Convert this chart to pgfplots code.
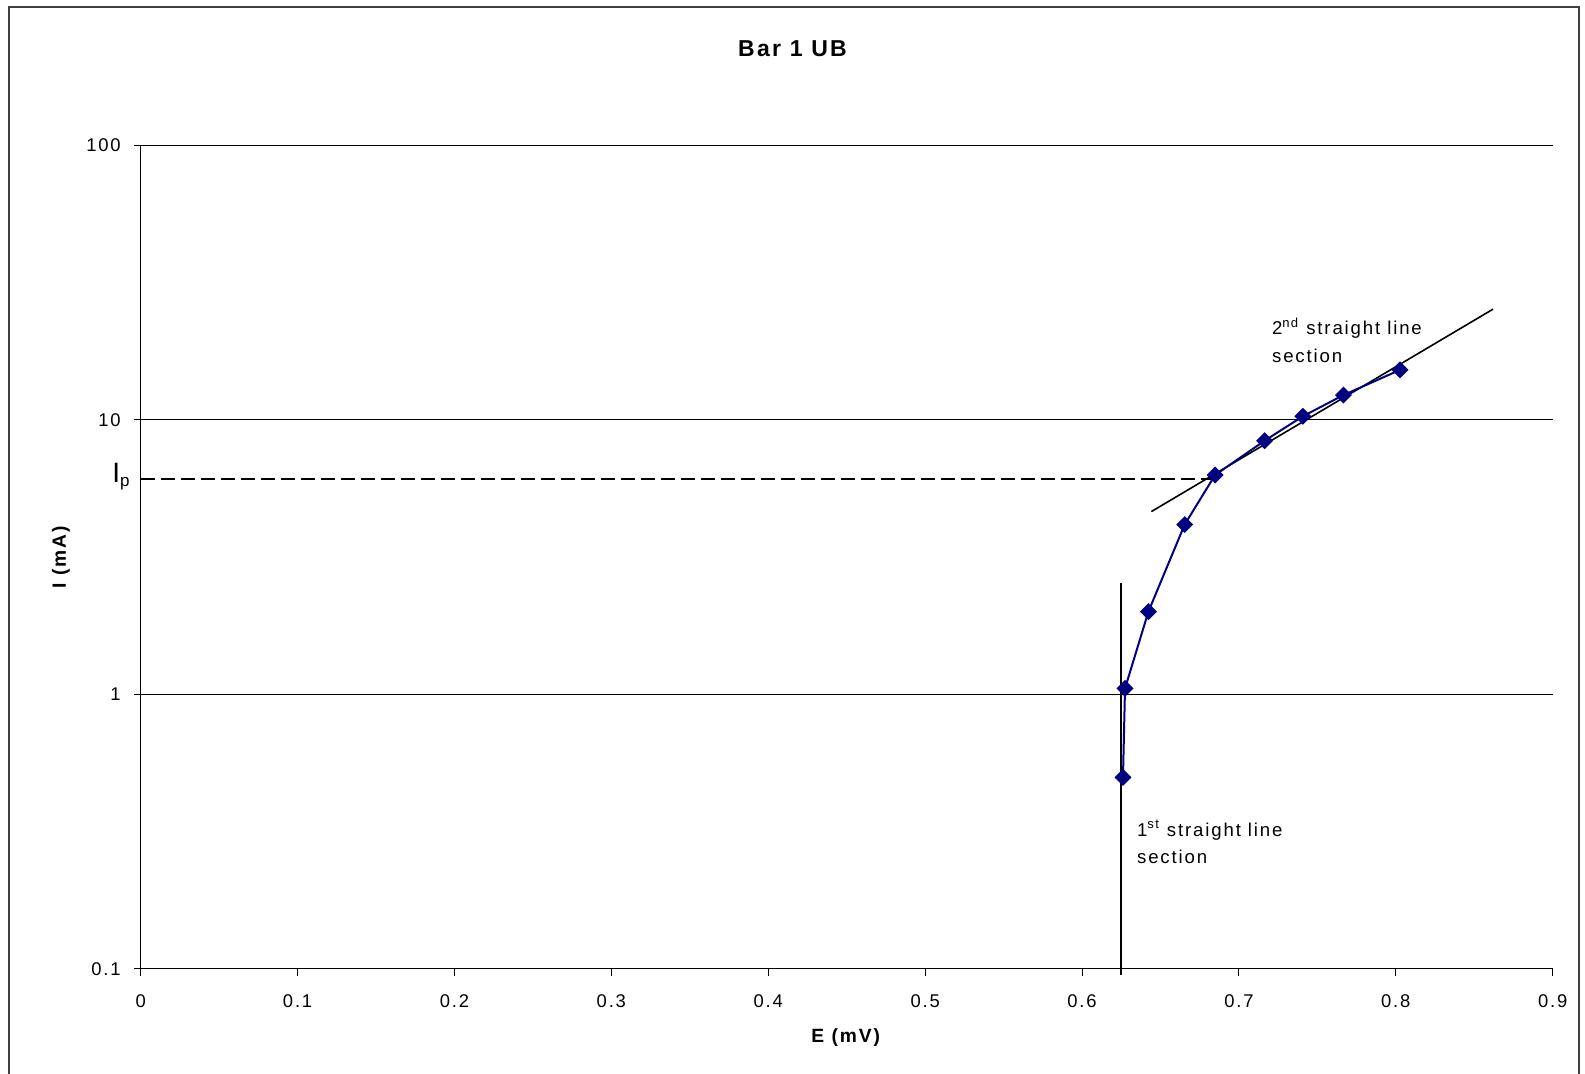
\documentclass[border=0pt]{standalone}
\usepackage{fontspec}
\setmainfont{Liberation Sans}[LetterSpace=10]
\usepackage{pgfplots}
\pgfplotsset{compat=1.18}
\definecolor{navyblue}{HTML}{000080}
\definecolor{framegray}{HTML}{404040}
\begin{document}
\begin{tikzpicture}[x=1pt,y=1pt]
\useasboundingbox (-70.35,-52.15) rectangle (722.15,484.35);
\draw[line width=1pt, color=framegray] (-65.85,-60) -- (-65.85,480.85) -- (719.15,480.85) -- (719.15,-60);
\begin{axis}[
  at={(0,0)}, anchor=south west,
  width=706pt, height=411.7pt, scale only axis,
  xmin=0, xmax=0.9, ymode=log, ymin=0.1, ymax=100,
  axis lines*=left,
  axis line style={black, line width=0.6pt},
  xtick={0,0.1,0.2,0.3,0.4,0.5,0.6,0.7,0.8,0.9},
  xticklabels={0,0.1,0.2,0.3,0.4,0.5,0.6,0.7,0.8,0.9},
  ytick={0.1,1,10,100},
  yticklabels={0.1,1,10,100},
  yminorticks=false,
  ymajorgrids,
  major grid style={black, line width=0.5pt},
  tick align=outside, major tick length=3.5pt,
  tick style={black, line width=0.5pt},
  ticklabel style={font=\fontsize{9.2}{11}\selectfont},
  xticklabel style={yshift=-6pt},
  yticklabel style={xshift=-3pt},
  xlabel={\textbf{E (mV)}},
  x label style={at={(axis description cs:0.5,0)}, anchor=center, yshift=-34.65pt, font=\fontsize{9.6}{11}\selectfont},
  clip=false,
]
\addplot[black, line width=0.8pt] coordinates {(0.6442,4.63) (0.862,25.3)};
\addplot[black, line width=0.8pt] coordinates {(0.6249,0.095) (0.6249,2.54)};
\addplot[black, line width=0.8pt, dash pattern=on 7pt off 3pt] coordinates {(0,6.08) (0.6835,6.08)};
\addplot[navyblue, line width=1pt, mark=square*, mark size=2.5pt, mark options={rotate=45, solid, fill=navyblue}] coordinates {
(0.6261,0.498) (0.6274,1.05) (0.6423,2.0) (0.6654,4.15) (0.6848,6.29)
(0.7164,8.39) (0.7408,10.3) (0.7666,12.3) (0.8027,15.2)};
\end{axis}
\node[rotate=90, font=\bfseries\fontsize{9.6}{11}\selectfont] at (-39.85,205.85) {I (mA)};
\node[font=\bfseries\fontsize{11.5}{13}\selectfont] at (325.9,460.1) {Bar 1 UB};
\node[anchor=base west, inner sep=0pt] at (-14.35,243.35) {{\fontsize{14}{16}\selectfont I}\raisebox{-2pt}{\fontsize{8.5}{10}\selectfont p}};
\node[anchor=base west, inner sep=0pt, font=\fontsize{9.3}{11}\selectfont] at (565.5,316.85) {2\textsuperscript{nd} straight line};
\node[anchor=base west, inner sep=0pt, font=\fontsize{9.3}{11}\selectfont] at (565.5,303) {section};
\node[anchor=base west, inner sep=0pt, font=\fontsize{9.3}{11}\selectfont] at (498,66.35) {1\textsuperscript{st} straight line};
\node[anchor=base west, inner sep=0pt, font=\fontsize{9.3}{11}\selectfont] at (498,52.7) {section};
\end{tikzpicture}
\end{document}
